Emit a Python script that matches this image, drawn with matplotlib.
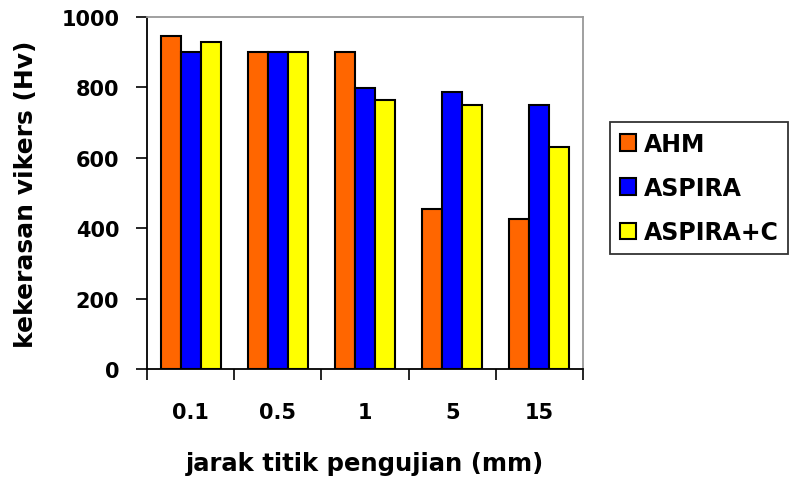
import numpy as np
import matplotlib
matplotlib.use('Agg')
import matplotlib.pyplot as plt
from matplotlib.ticker import FixedLocator

# data
jarak = ['0.1', '0.5', '1', '5', '15']
ahm = [945, 900, 900, 455, 427]
aspira = [900, 900, 798, 786, 751]
aspira_c = [929, 900, 764, 751, 632]

series = [('AHM', ahm, '#FF6600'),
          ('ASPIRA', aspira, '#0000FF'),
          ('ASPIRA+C', aspira_c, '#FFFF00')]

plt.rcParams['font.family'] = 'DejaVu Sans'
plt.rcParams['font.weight'] = 'bold'

fig = plt.figure(figsize=(8.05, 4.81), dpi=100)
ax = fig.add_axes([147/805, 1-370/481, (583-147)/805, (370-18)/481])

x = np.arange(len(jarak))
w = 0.23
for i, (name, vals, col) in enumerate(series):
    ax.bar(x + (i-1)*w, vals, w, color=col, edgecolor='black', linewidth=1.5,
           label=name, zorder=3)

ax.set_xlim(-0.5, 4.5)
ax.set_ylim(0, 1000)
ax.set_yticks(range(0, 1001, 200))

ax.set_xticks(x)
ax.set_xticklabels(jarak, fontsize=15, fontweight='bold')
ax.tick_params(axis='x', which='major', length=0, pad=24)
ax.xaxis.set_minor_locator(FixedLocator(np.arange(-0.5, 5, 1)))
ax.tick_params(axis='x', which='minor', length=8, width=1.2, direction='out')
ax.tick_params(axis='y', length=8, width=1.2, direction='out', pad=12, labelsize=15)
for t in ax.get_yticklabels():
    t.set_fontweight('bold')

for s in ['top', 'right']:
    ax.spines[s].set_color('#999999')
    ax.spines[s].set_linewidth(1.3)
for s in ['left', 'bottom']:
    ax.spines[s].set_color('black')
    ax.spines[s].set_linewidth(1.3)

ax.set_xlabel('jarak titik pengujian (mm)', fontsize=17.5, fontweight='bold', labelpad=21)
ax.set_ylabel('kekerasan vikers (Hv)', fontsize=18, fontweight='bold', labelpad=17)

# legend box sits right of the axes, like the original
leg = fig.legend(loc='upper left', bbox_to_anchor=(610/805, 1-123/481),
                 fontsize=17, frameon=True, fancybox=False, edgecolor='black',
                 handlelength=0.7, handleheight=0.7, handletextpad=0.3,
                 labelspacing=0.85, borderpad=0.42, borderaxespad=0)
leg.get_frame().set_linewidth(1.3)
for t in leg.get_texts():
    t.set_fontweight('bold')

fig.savefig('out.png', dpi=100, facecolor='white')
